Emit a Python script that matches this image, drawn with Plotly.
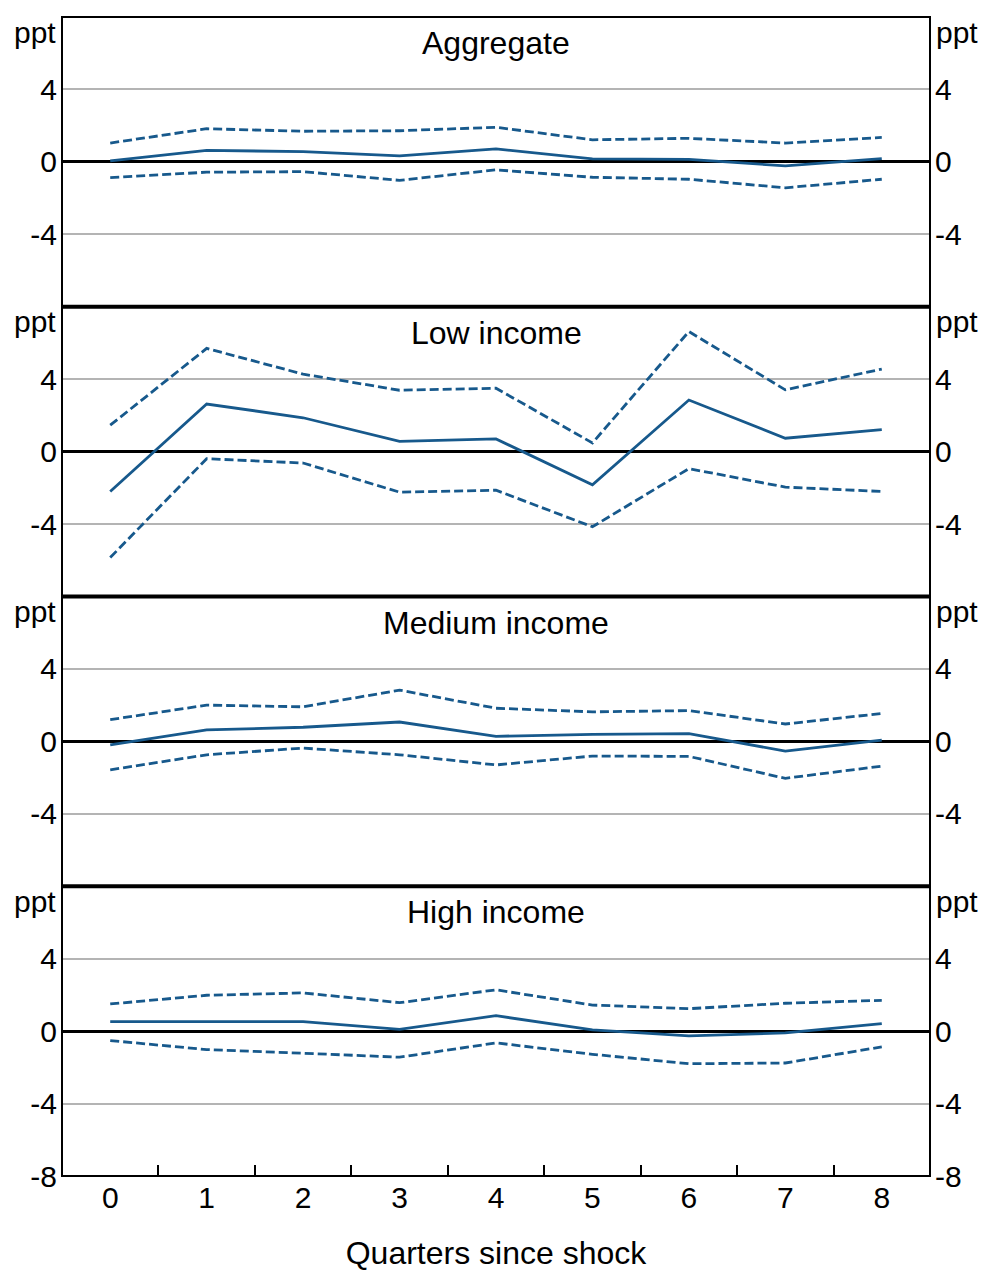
import plotly.graph_objects as go

# Quarters since shock
quarters = [0, 1, 2, 3, 4, 5, 6, 7, 8]

panel_titles = ["Aggregate", "Low income", "Medium income", "High income"]

# Impulse responses (ppt): point estimate and confidence bands
agg_mid = [0.05, 0.63, 0.57, 0.33, 0.72, 0.17, 0.14, -0.22, 0.18]
agg_hi = [1.04, 1.83, 1.69, 1.72, 1.91, 1.22, 1.30, 1.04, 1.35]
agg_lo = [-0.87, -0.57, -0.54, -1.02, -0.44, -0.85, -0.96, -1.43, -0.96]

low_mid = [-2.20, 2.63, 1.87, 0.57, 0.70, -1.83, 2.85, 0.74, 1.22]
low_hi = [1.46, 5.70, 4.28, 3.39, 3.50, 0.48, 6.63, 3.41, 4.56]
low_lo = [-5.85, -0.39, -0.63, -2.24, -2.13, -4.15, -0.94, -1.96, -2.20]

med_mid = [-0.19, 0.63, 0.78, 1.07, 0.28, 0.39, 0.43, -0.54, 0.07]
med_hi = [1.20, 2.00, 1.91, 2.83, 1.83, 1.63, 1.70, 0.96, 1.54]
med_lo = [-1.57, -0.74, -0.37, -0.74, -1.30, -0.81, -0.83, -2.04, -1.37]

high_mid = [0.52, 0.52, 0.52, 0.10, 0.85, 0.07, -0.26, -0.10, 0.42]
high_hi = [1.50, 1.98, 2.11, 1.57, 2.28, 1.44, 1.24, 1.54, 1.70]
high_lo = [-0.52, -1.02, -1.22, -1.44, -0.65, -1.28, -1.80, -1.76, -0.87]

panels = [
    (agg_mid, agg_hi, agg_lo),
    (low_mid, low_hi, low_lo),
    (med_mid, med_hi, med_lo),
    (high_mid, high_hi, high_lo),
]

y_ticks = [-4, 0, 4]
y_ticks_bottom = [-8, -4, 0, 4]

BLUE = "#17598c"
FONT = "Arial, Liberation Sans, sans-serif"
TICK_SIZE = 30
TITLE_SIZE = 32
W, H = 983, 1271
ML, MR, MT, MB = 62, 53, 17, 95

fig = go.Figure()
n = len(panels)
layout = {}
shapes = []
annotations = []

for i, (mid, hi, lo) in enumerate(panels):
    k = i + 1
    yname = "y" if k == 1 else f"y{k}"
    rname = f"y{k + n}"
    top = 1 - i / n
    bot = 1 - (i + 1) / n
    for series, dash in ((hi, "9px,4px"), (lo, "9px,4px"), (mid, "solid")):
        fig.add_trace(go.Scatter(
            x=quarters, y=series, xaxis="x", yaxis=yname, mode="lines",
            line=dict(color=BLUE, width=2.8, dash=dash),
            showlegend=False, hoverinfo="skip"))
    # placeholder trace so the right-hand axis is drawn
    fig.add_trace(go.Scatter(x=[None], y=[None], xaxis="x", yaxis=rname,
                             showlegend=False, hoverinfo="skip"))
    tv = y_ticks_bottom if k == n else y_ticks
    common = dict(range=[-8, 8], tickvals=tv, ticktext=[str(v) for v in tv],
                  tickfont=dict(family=FONT, size=TICK_SIZE, color="black"),
                  ticks="", fixedrange=True, automargin=False)
    layout["yaxis" if k == 1 else f"yaxis{k}"] = dict(
        domain=[bot, top], anchor="x", side="left",
        showgrid=True, gridcolor="#b4b4b4", gridwidth=2,
        zeroline=True, zerolinecolor="black", zerolinewidth=2.5,
        showline=False, ticklabelstandoff=4, **common)
    layout[f"yaxis{k + n}"] = dict(
        overlaying=yname, side="right", anchor="x",
        showgrid=False, zeroline=False, showline=False,
        ticklabelstandoff=4, **common)
    yd = f"{yname} domain"
    # panel frame
    shapes.append(dict(type="rect", xref="x domain", yref=yd,
                       x0=0, x1=1, y0=0, y1=1,
                       line=dict(color="black", width=2), layer="above"))
    if k < n:
        shapes.append(dict(type="line", xref="x domain", yref=yd,
                           x0=0, x1=1, y0=0, y1=0,
                           line=dict(color="black", width=4), layer="above"))
    annotations.append(dict(text=panel_titles[i], xref="x domain", yref=yd,
                            x=0.5, y=1, yshift=-26, showarrow=False,
                            xanchor="center", yanchor="middle",
                            font=dict(family=FONT, size=TITLE_SIZE, color="black")))
    for xpos, anchor, xs in ((0, "right", -4), (1, "left", 4)):
        annotations.append(dict(text="ppt", xref="x domain", yref=yd,
                                x=xpos, y=1, xshift=xs, yshift=-15,
                                showarrow=False, xanchor=anchor, yanchor="middle",
                                font=dict(family=FONT, size=TICK_SIZE, color="black")))

layout["xaxis"] = dict(
    domain=[0, 1], anchor="y4", range=[-0.5, 8.5],
    tickvals=quarters, ticktext=[str(q) for q in quarters],
    ticks="", showgrid=False, zeroline=False, showline=False,
    ticklabelstandoff=1, automargin=False,
    tickfont=dict(family=FONT, size=TICK_SIZE, color="black"),
    minor=dict(tickvals=[q + 0.5 for q in quarters[:-1]], ticks="inside",
               ticklen=11, tickwidth=2, tickcolor="black", showgrid=False),
    title=dict(text="Quarters since shock", standoff=34,
               font=dict(family=FONT, size=TITLE_SIZE, color="black")),
    fixedrange=True)

fig.update_layout(
    width=W, height=H,
    margin=dict(l=ML, r=MR, t=MT, b=MB, pad=0, autoexpand=False),
    paper_bgcolor="white", plot_bgcolor="white",
    shapes=shapes, annotations=annotations, **layout)

fig.write_html("out.html")
